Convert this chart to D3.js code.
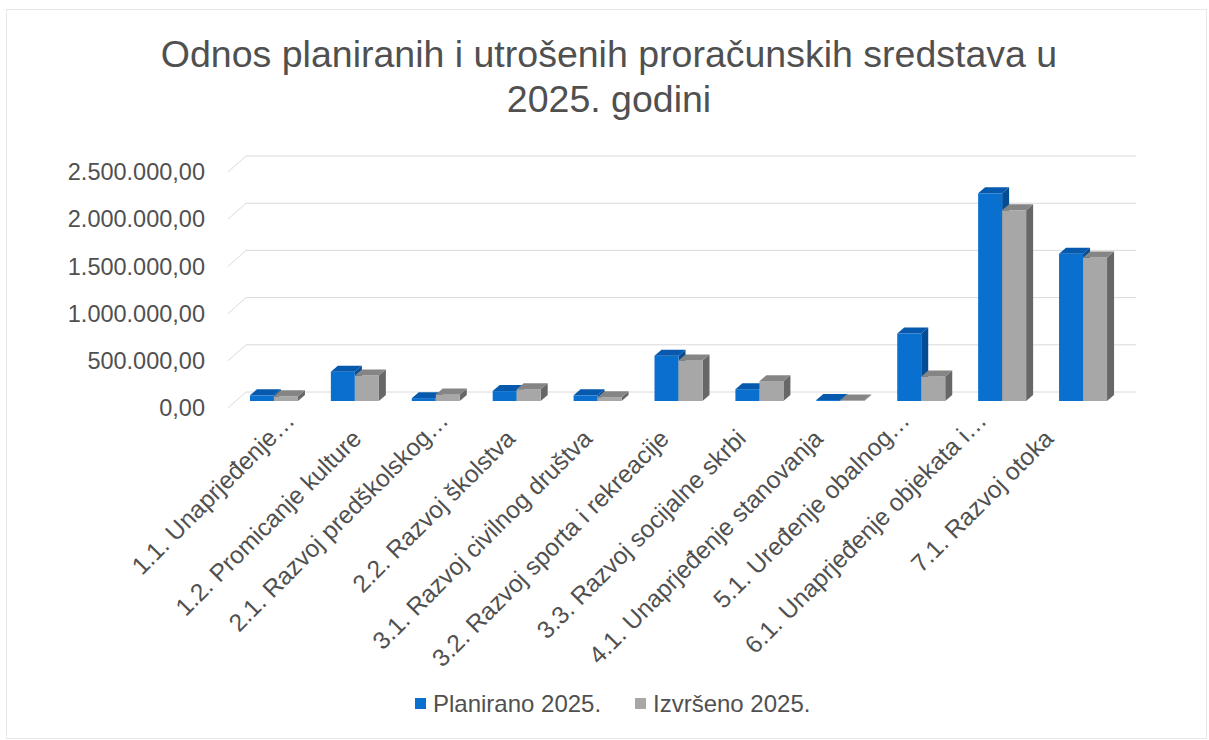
<!DOCTYPE html>
<html>
<head>
<meta charset="utf-8">
<script src="https://cdn.jsdelivr.net/npm/d3@7"></script>
<style>
  html, body { margin: 0; padding: 0; background: #fff; }
  svg { display: block; }
  text { font-family: "Liberation Sans", Arial, sans-serif; fill: #505050; }
</style>
</head>
<body>
<svg id="chart" width="1209" height="740"></svg>
<script>
// ---- data ----
const categories = [
  "1.1. Unaprjeđenje…",
  "1.2. Promicanje kulture",
  "2.1. Razvoj predškolskog…",
  "2.2. Razvoj školstva",
  "3.1. Razvoj civilnog društva",
  "3.2. Razvoj sporta i rekreacije",
  "3.3. Razvoj socijalne skrbi",
  "4.1. Unaprjeđenje stanovanja",
  "5.1. Uređenje obalnog…",
  "6.1. Unaprjeđenje objekata i…",
  "7.1. Razvoj otoka"
];
const seriesNames = ["Planirano 2025.", "Izvršeno 2025."];
const planirano = [60000, 310000, 30000, 105000, 60000, 480000, 125000, 10000, 715000, 2200000, 1560000];
const izvrseno  = [50000, 270000, 70000, 125000, 40000, 430000, 210000, 5000, 260000, 2020000, 1520000];
const yTicks = [0, 500000, 1000000, 1500000, 2000000, 2500000];
const yTickLabels = ["0,00", "500.000,00", "1.000.000,00", "1.500.000,00", "2.000.000,00", "2.500.000,00"];
const titleLines = ["Odnos planiranih i utrošenih proračunskih sredstava u", "2025. godini"];

// ---- setup ----
const svg = d3.select("#chart");

svg.append("rect").attr("x", 6.5).attr("y", 9.5).attr("width", 1200).attr("height", 729)
  .attr("fill", "#fff").attr("stroke", "#e8e8e8").attr("stroke-width", 1);

// title
svg.selectAll("text.title").data(titleLines).enter().append("text")
  .attr("class", "title")
  .attr("x", 609).attr("y", (d, i) => 67 + i * 45)
  .attr("text-anchor", "middle")
  .style("font-size", "37.5px")
  .text(d => d);

// scales
const yMax = 2500000;
const yBack = d3.scaleLinear().domain([0, yMax]).range([392, 156]);   // back wall
const yFront = d3.scaleLinear().domain([0, yMax]).range([401, 165]);  // bar fronts
const wallDx = 18, wallDy = 16;  // left wall depth
const xCat = d3.scalePoint().domain(categories).range([233.5, 1123.5]).padding(0.5);
const xSer = d3.scaleBand().domain(seriesNames).range([-24, 24]).padding(0);
const xLab = d3.scalePoint().domain(categories).range([286, 1055]);
const depth = { dx: 7, dy: -6 };

const gridLeft = 246, gridRight = 1136;

// gridlines on back wall + left wall diagonals
const grid = svg.append("g");
grid.selectAll("line.h").data(yTicks).enter().append("line")
  .attr("x1", gridLeft).attr("x2", gridRight)
  .attr("y1", d => yBack(d)).attr("y2", d => yBack(d))
  .attr("stroke", "#dadada").attr("stroke-width", 1);
grid.selectAll("line.d").data(yTicks).enter().append("line")
  .attr("x1", gridLeft - wallDx).attr("y1", d => yBack(d) + wallDy)
  .attr("x2", gridLeft).attr("y2", d => yBack(d))
  .attr("stroke", "#dadada").attr("stroke-width", 1);

// y labels
svg.selectAll("text.ytick").data(yTicks).enter().append("text")
  .attr("x", 205).attr("y", d => yBack(d) + wallDy)
  .attr("dy", "0.35em")
  .attr("text-anchor", "end")
  .style("font-size", "23.5px")
  .text((d, i) => yTickLabels[i]);

// bars
const colors = {
  "Planirano 2025.": { front: "#0a70d0", top: "#0659ad", side: "#044c93" },
  "Izvršeno 2025.":  { front: "#a7a7a7", top: "#858585", side: "#676767" }
};
const series = [planirano, izvrseno];
const barsG = svg.append("g");
categories.forEach((c, i) => {
  seriesNames.forEach((s, si) => {
    const v = series[si][i];
    const x0 = xCat(c) + xSer(s);
    const w = xSer.bandwidth();
    const yT = yFront(v), yB = yFront(0);
    const col = colors[s];
    const g = barsG.append("g");
    g.append("polygon")
      .attr("points", [[x0 + w, yT], [x0 + w + depth.dx, yT + depth.dy], [x0 + w + depth.dx, yB + depth.dy], [x0 + w, yB]].map(p => p.join(",")).join(" "))
      .attr("fill", col.side);
    g.append("rect").attr("x", x0).attr("y", yT).attr("width", w).attr("height", Math.max(0, yB - yT))
      .attr("fill", col.front);
    g.append("polygon")
      .attr("points", [[x0, yT], [x0 + w, yT], [x0 + w + depth.dx, yT + depth.dy], [x0 + depth.dx, yT + depth.dy]].map(p => p.join(",")).join(" "))
      .attr("fill", col.top);
  });
});

// x labels (rotated)
svg.selectAll("text.xlab").data(categories).enter().append("text")
  .attr("transform", d => {
    const trunc = d.endsWith("…");
    const x = xLab(d) + (trunc ? 10 : 0);
    const y = trunc ? 422 : 440;
    return `translate(${x},${y}) rotate(-45)`;
  })
  .attr("text-anchor", "end")
  .style("font-size", "24.5px")
  .text(d => d);

// legend
const legend = svg.append("g");
const legendItems = [
  { name: seriesNames[0], x: 415, color: colors[seriesNames[0]].front },
  { name: seriesNames[1], x: 635, color: colors[seriesNames[1]].front }
];
legendItems.forEach(it => {
  legend.append("rect").attr("x", it.x).attr("y", 698).attr("width", 11).attr("height", 11).attr("fill", it.color);
  legend.append("text").attr("x", it.x + 18).attr("y", 704).attr("dy", "0.35em")
    .style("font-size", "24px").text(it.name);
});
</script>
</body>
</html>
